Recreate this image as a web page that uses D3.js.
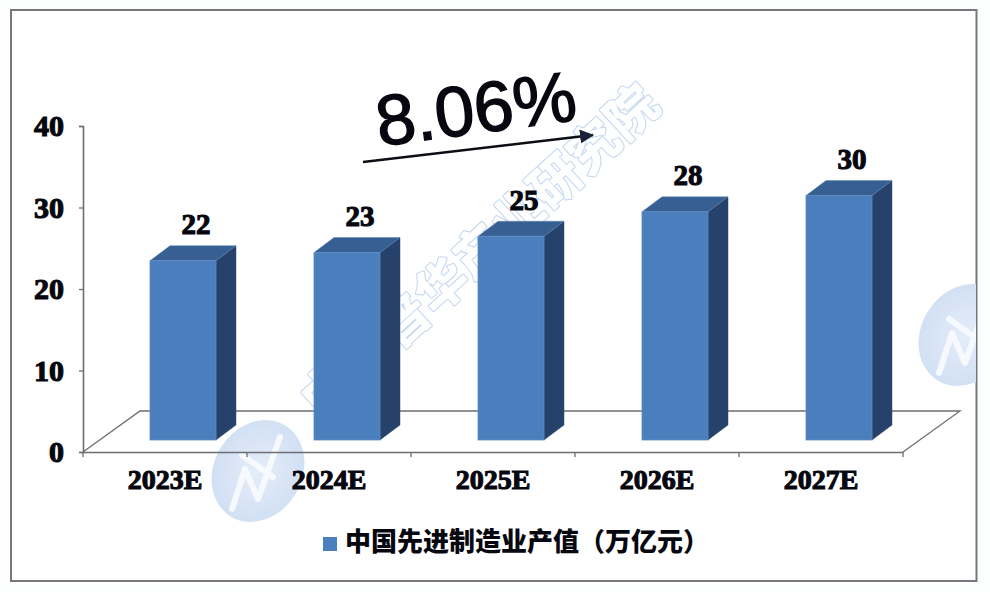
<!DOCTYPE html>
<html><head><meta charset="utf-8">
<style>html,body{margin:0;padding:0;background:#fdfefe}svg{display:block}</style>
<script src="https://cdn.jsdelivr.net/npm/d3@7"></script></head>
<body><svg id="c" width="990" height="592"></svg>
<script>
const categories = ["2023E","2024E","2025E","2026E","2027E"];
const values = [22,23,25,28,30];
const labels = ["22","23","25","28","30"];
const yTicks = [0,10,20,30,40];
const legendLabel = "中国先进制造业产值（万亿元）";
const growthLabel = "8.06%";
const watermark = "中研普华产业研究院";

const svg = d3.select("#c");
const FONT = '"Liberation Sans",Arial,sans-serif';
const SERIF = '"Liberation Serif","Times New Roman",serif';
const CJK = '"Noto Sans CJK SC",sans-serif';
const INK = "#07070f";
const y = d3.scaleLinear().domain([0,40]).range([452,126]);
const x = d3.scaleBand().domain(categories).range([83,903]);
const depth = {dx:20, dy:15};
const floor = {dx:57, dy:41};
const barW = 66, barShift = 18, baseLift = 12;

const defs = svg.append("defs");
defs.append("clipPath").attr("id","r").append("rect").attr("width",976).attr("height",592);
const grad = defs.append("radialGradient").attr("id","bd");
grad.append("stop").attr("offset","0%").attr("stop-color","#e4edf9");
grad.append("stop").attr("offset","100%").attr("stop-color","#d2e0f4");

svg.append("rect").attr("x",11).attr("y",10).attr("width",965.5).attr("height",571)
  .attr("fill","#fff").attr("stroke","#77777d").attr("stroke-width",2);

// watermark badges
function badge(parent,cx,cy){
  const g = parent.append("g").attr("transform",`translate(${cx},${cy})`);
  g.append("ellipse").attr("rx",44).attr("ry",53).attr("transform","rotate(30)").attr("fill","url(#bd)");
  g.append("path").attr("d","M-26,38 L-13,-2 L0,28 L22,-34 M-16,-16 L15,6")
   .attr("fill","none").attr("stroke","#f6f9fd").attr("stroke-width",6).attr("stroke-linejoin","round").attr("stroke-linecap","round");
}
badge(svg,258,471);
badge(svg.append("g").attr("clip-path","url(#r)"),965,335);

// watermark text: thin pale outline with a white interior
[{s:"#c6d8ef",w:3.4},{s:"#ffffff",w:1.2}].forEach(o=>{
  svg.append("text").text(watermark)
    .attr("transform","translate(477,248) rotate(-42.5)")
    .attr("text-anchor","middle").attr("dominant-baseline","central")
    .attr("font-family",CJK).attr("font-weight",700).attr("font-size",50)
    .attr("textLength",462).attr("fill","#ffffff").attr("stroke",o.s).attr("stroke-width",o.w)
    .attr("stroke-linejoin","round");
});

// floor
const x0=x.range()[0], x1=x.range()[1], yb=y(0);
svg.append("path").attr("d",`M${x0},${yb} L${x0+floor.dx},${yb-floor.dy} L${x1+floor.dx},${yb-floor.dy} L${x1},${yb}`)
  .attr("fill","none").attr("stroke","#6e6e72").attr("stroke-width",1.3);

// axes
const yAxis = d3.axisLeft(y).tickValues(yTicks).tickSize(4).tickPadding(15);
const gy = svg.append("g").attr("transform",`translate(${x0},0)`).call(yAxis);
const xAxis = d3.axisBottom(x).tickSize(0).tickPadding(17);
const gx = svg.append("g").attr("transform",`translate(0,${yb})`).call(xAxis);
const edges = [...categories.map(c=>x(c)), x1];
gx.selectAll("line.e").data(edges).join("line").attr("class","e")
  .attr("x1",d=>d).attr("x2",d=>d).attr("y1",0).attr("y2",5);
[gx,gy].forEach(g=>{
  g.selectAll(".domain").attr("stroke","#6e6e72").attr("stroke-width",1.6);
  g.selectAll("line").attr("stroke","#6e6e72").attr("stroke-width",1.3);
  g.selectAll("text").attr("font-family",SERIF).attr("font-weight",700).attr("font-size",28)
    .attr("fill",INK).attr("stroke",INK).attr("stroke-width",1.1);
});
gy.selectAll("text").attr("font-size",30);

// bars
const bars = svg.append("g").selectAll("g").data(categories.map((c,i)=>({c,v:values[i],l:labels[i]}))).join("g");
const bx = d=>x(d.c)+x.bandwidth()/2+barShift-barW/2;
const top_ = d=>y(d.v)-baseLift, bot = ()=>y(0)-baseLift;
bars.append("path").attr("fill","#26426b").attr("stroke","#2f4f7c").attr("stroke-width",.5)
  .attr("d",d=>`M${bx(d)+barW},${top_(d)} l${depth.dx},${-depth.dy} L${bx(d)+barW+depth.dx},${bot()-depth.dy} L${bx(d)+barW},${bot()} Z`);
bars.append("path").attr("fill","#375f92").attr("stroke","#5c86ba").attr("stroke-width",.5)
  .attr("d",d=>`M${bx(d)},${top_(d)} l${depth.dx},${-depth.dy} h${barW} l${-depth.dx},${depth.dy} Z`);
bars.append("rect").attr("x",bx).attr("y",top_).attr("width",barW).attr("height",d=>bot()-top_(d))
  .attr("fill","#4a7ebd").attr("stroke","#5f8cc4").attr("stroke-width",.8);
bars.append("text").text(d=>d.l).attr("x",d=>bx(d)+barW/2+13).attr("y",d=>top_(d)-26.5)
  .attr("text-anchor","middle").attr("font-family",SERIF).attr("font-weight",700).attr("font-size",29)
  .attr("fill",INK).attr("stroke",INK).attr("stroke-width",1.1);

// growth arrow
defs.append("marker").attr("id","ah").attr("markerUnits","userSpaceOnUse")
  .attr("viewBox","0 0 14 14").attr("refX",13).attr("refY",7).attr("markerWidth",14).attr("markerHeight",14).attr("orient","auto")
  .append("path").attr("d","M0,0 L14,7 L0,14 Z").attr("fill","#1a2238");
svg.append("line").attr("x1",363).attr("y1",162).attr("x2",593).attr("y2",135)
  .attr("stroke","#0d0d14").attr("stroke-width",2.4).attr("marker-end","url(#ah)");
svg.append("text").text(growthLabel).attr("transform","translate(479,133) rotate(-7.5)")
  .attr("text-anchor","middle").attr("font-family",FONT).attr("font-size",71)
  .attr("fill",INK).attr("stroke",INK).attr("stroke-width",1.4);

// legend
svg.append("rect").attr("x",323).attr("y",537).attr("width",14).attr("height",14).attr("fill","#4a7ebd");
svg.append("text").text(legendLabel).attr("x",345).attr("y",551)
  .attr("font-family",CJK).attr("font-weight",900).attr("font-size",26).attr("fill",INK);
</script></body></html>
